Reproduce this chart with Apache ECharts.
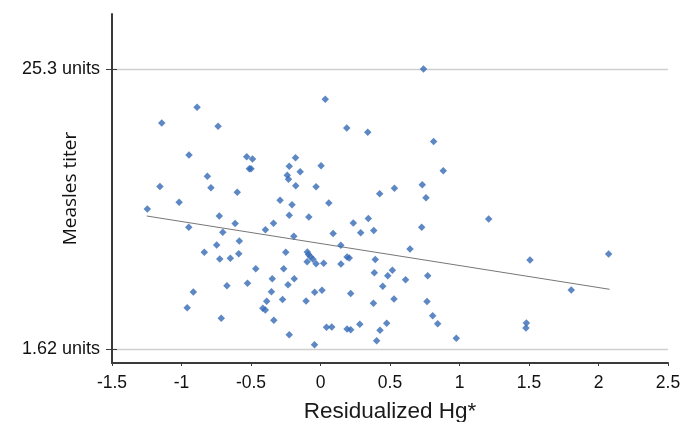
<!DOCTYPE html>
<html>
<head>
<meta charset="utf-8">
<script src="https://cdn.jsdelivr.net/npm/echarts@6/dist/echarts.min.js"></script>
<style>
html,body{margin:0;padding:0;background:#fff;}
#chart{width:692px;height:422px;}
</style>
</head>
<body>
<div id="chart"></div>
<script>
// Residualized Hg* (x) for each subject
var hgResidual = [
-1.246,-1.142,-0.888,-0.737,-0.946,-0.531,-0.489,-0.512,-0.500,-0.814,
-0.788,-1.155,-0.599,-1.017,-0.728,-0.614,-0.948,-0.703,-0.396,-0.338,
-0.180,-0.225,-0.146,-0.239,-0.230,-0.178,-0.291,-0.205,-0.225,-0.192,
-0.747,-0.584,-0.836,-0.725,-0.649,-0.588,-0.250,-0.466,-0.265,-0.347,
-0.189,-0.525,-0.673,-0.234,-0.915,-0.353,-0.387,-0.273,-0.959,-0.415,
-0.397,-0.714,-0.336,-0.225,-0.104,-0.095,-0.086,-0.072,-0.054,-0.096,
-0.032,0.023,-0.042,0.011,0.043,0.081,-0.043,-0.032,0.004,-0.084,
0.060,0.034,0.189,0.340,0.741,0.814,0.883,0.732,0.759,0.532,
0.426,0.344,0.236,0.383,0.289,0.728,1.210,0.091,0.146,0.644,
0.191,0.207,0.147,0.394,0.387,0.517,0.484,0.612,0.771,0.448,
0.217,0.529,0.381,0.766,0.807,0.843,0.191,0.217,0.283,0.476,
0.428,0.404,0.977,1.507,2.073,1.804,1.481,1.478
];
// Measles titer position on the (log-spaced) titer axis
var titerLevel = [
2.647,4.126,4.397,4.069,3.576,3.547,3.507,3.340,3.340,3.211,
3.014,3.034,2.934,2.763,2.527,2.398,2.335,2.247,2.290,2.402,
3.529,3.383,3.289,3.227,3.158,3.046,2.797,2.720,2.541,2.178,
2.029,2.097,1.903,1.788,1.800,1.879,1.905,1.621,1.621,1.447,
1.447,1.370,1.327,1.344,1.221,1.226,1.062,1.092,0.951,0.942,
0.911,0.768,0.734,0.485,1.066,1.908,1.865,1.826,1.783,1.740,
1.707,1.714,1.215,1.252,0.615,0.619,0.315,3.031,3.390,2.510,
2.751,4.533,4.040,3.968,5.054,3.808,3.306,3.065,2.840,3.005,
2.910,2.484,2.407,2.278,2.240,2.335,2.476,2.226,2.025,1.960,
1.822,1.805,1.702,1.779,1.552,1.594,1.501,1.432,1.501,1.320,
1.195,1.100,1.026,1.057,0.811,0.676,0.584,0.572,0.665,0.684,
0.562,0.382,0.425,1.771,1.874,1.255,0.688,0.602
];
// Fitted regression line end points
var trendX = [-1.25, 2.08];
var trendY = [2.527, 1.267];
// Y-axis labelled ticks
var yTickValues = [0.24, 5.05];
var yTickLabels = ['1.62 units', '25.3 units'];

var points = hgResidual.map(function (x, i) { return [x, titerLevel[i]]; });
var trend = trendX.map(function (x, i) { return [x, trendY[i]]; });

var chart = echarts.init(document.getElementById('chart'), null, {renderer: 'canvas'});
var axisFont = 'Liberation Sans, Arial, Helvetica, sans-serif';
chart.setOption({
  animation: false,
  backgroundColor: '#ffffff',
  grid: {left: 112, right: 24, top: 14, bottom: 59, containLabel: false, outerBoundsMode: 'none'},
  xAxis: {
    type: 'value', min: -1.5, max: 2.5, interval: 0.5,
    name: 'Residualized Hg*', nameLocation: 'middle', nameGap: 37, nameMoveOverlap: false,
    nameTextStyle: {fontFamily: axisFont, fontSize: 22.5, color: '#1a1a1a'},
    axisLine: {show: true, onZero: false, lineStyle: {color: '#3a3a3a', width: 2}},
    axisTick: {show: true, inside: false, length: 3, lineStyle: {color: '#3a3a3a', width: 1}},
    axisLabel: {fontFamily: axisFont, fontSize: 17.5, color: '#111', margin: 11,
      formatter: function (v) { return String(Math.round(v * 10) / 10); }},
    splitLine: {show: false}
  },
  yAxis: [{
    type: 'value', min: 0, max: 6, interval: 1,
    name: 'Measles titer', nameLocation: 'middle', nameGap: 32, nameMoveOverlap: false,
    nameTextStyle: {fontFamily: 'Open Sans, sans-serif', fontSize: 19, color: '#111'},
    axisLine: {show: true, onZero: false, lineStyle: {color: '#3a3a3a', width: 2}},
    axisTick: {show: true, inside: false, length: 6, customValues: yTickValues,
      lineStyle: {color: '#3a3a3a', width: 1}},
    axisLabel: {fontFamily: axisFont, fontSize: 18, color: '#111', margin: 12,
      customValues: yTickValues,
      formatter: function (v) {
        var i = yTickValues.indexOf(v);
        return i >= 0 ? yTickLabels[i] : '';
      }},
    splitLine: {show: true, lineStyle: {color: '#cfcfcf', width: 1.3}}
  }, {
    type: 'value', min: 0, max: 6, interval: 1, position: 'left',
    axisLine: {show: false, onZero: false},
    axisTick: {show: true, inside: true, length: 5, customValues: yTickValues,
      lineStyle: {color: '#3a3a3a', width: 1}},
    axisLabel: {show: false},
    splitLine: {show: false}
  }],
  series: [{
    type: 'scatter',
    data: points,
    symbol: 'diamond',
    symbolSize: 7.5,
    itemStyle: {color: '#346ab5'},
    z: 3
  }, {
    type: 'line',
    data: trend,
    symbol: 'none',
    lineStyle: {color: '#777777', width: 1},
    z: 2
  }]
});
</script>
</body>
</html>
